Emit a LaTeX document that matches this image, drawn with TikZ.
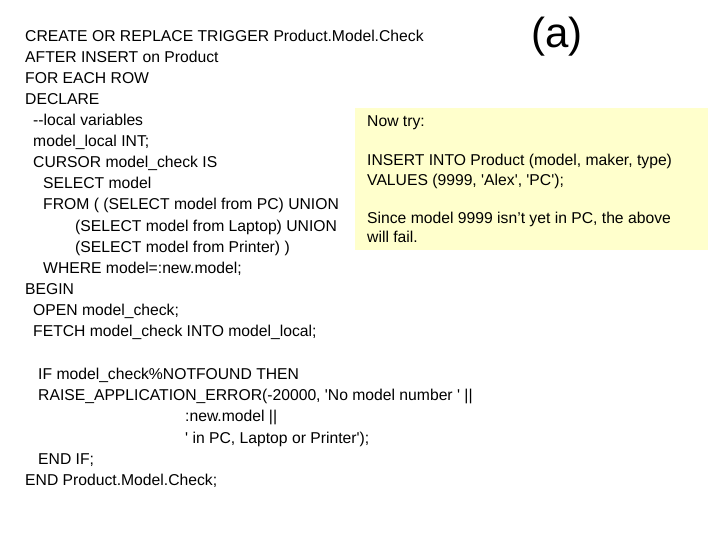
\documentclass[tikz,border=0pt]{standalone}
\usepackage{fontspec}
\setmainfont[Ligatures=TeXOff]{Liberation Sans}
\begin{document}
\begin{tikzpicture}[x=1pt,y=-1pt,
  code/.style={anchor=base west,inner sep=0pt,font=\fontsize{15.7}{18}\selectfont}]
\useasboundingbox (0,0) rectangle (720,540);
\fill[white] (0,0) rectangle (720,540);
\fill[fill={rgb,255:red,255;green,255;blue,204}] (355,108) rectangle (708,250);
\node[code,font=\fontsize{42}{46}\selectfont] (a) at (531,48) {(a)};
\node[code] (l1) at (25,42) {CREATE OR REPLACE TRIGGER Product.Model.Check};
\node[code] (l2) at (25,63) {AFTER INSERT on Product};
\node[code] (l3) at (25,84) {FOR EACH ROW};
\node[code] (l4) at (25,105) {DECLARE};
\node[code] (l5) at (33,126) {--local variables};
\node[code] (l6) at (33,147) {model\_local INT;};
\node[code] (l7) at (33,168) {CURSOR model\_check IS};
\node[code] (l8) at (43,189) {SELECT model};
\node[code] (l9) at (43,210) {FROM ( (SELECT model from PC) UNION};
\node[code] (l10) at (75,231) {(SELECT model from Laptop) UNION};
\node[code] (l11) at (75,252) {(SELECT model from Printer) )};
\node[code] (l12) at (43,273) {WHERE model=:new.model;};
\node[code] (l13) at (25,294) {BEGIN};
\node[code] (l14) at (33,315) {OPEN model\_check;};
\node[code] (l15) at (33,336) {FETCH model\_check INTO model\_local;};
\node[code] (l16) at (38,379) {IF model\_check\%NOTFOUND THEN};
\node[code] (l17) at (38,400) {RAISE\_APPLICATION\_ERROR(-20000, 'No model number ' ||};
\node[code] (l18) at (185,421) {:new.model ||};
\node[code] (l19) at (185,443) {' in PC, Laptop or Printer');};
\node[code] (l20) at (38,464) {END IF;};
\node[code] (l21) at (25,485) {END Product.Model.Check;};
\node[code] (y1) at (367,127) {Now try:};
\node[code] (y2) at (367,166) {INSERT INTO Product (model, maker, type)};
\node[code] (y3) at (367,186) {VALUES (9999, 'Alex', 'PC');};
\node[code] (y4) at (367,223) {Since model 9999 isn’t yet in PC, the above};
\node[code] (y5) at (367,243) {will fail.};
\end{tikzpicture}
\end{document}
